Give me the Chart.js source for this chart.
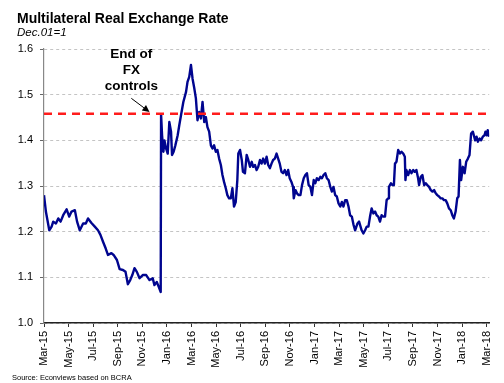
<!DOCTYPE html>
<html>
<head>
<meta charset="utf-8">
<script src="https://cdn.jsdelivr.net/npm/chart.js@4.4.0/dist/chart.umd.min.js"></script>
<style>
  html, body { margin: 0; padding: 0; background: #fff; }
  #wrap { position: relative; width: 504px; height: 383px; }
</style>
</head>
<body>
<div id="wrap"><canvas id="rerChart" width="504" height="383"></canvas></div>
<script>
// months since Mar-15 (fractional) and index value (Dec.01=1)
const months = [
  0.00, 0.16, 0.43, 0.62, 0.75, 0.97, 1.16, 1.35, 1.56, 1.84, 2.05, 2.24, 2.51, 2.69, 2.91, 3.18, 3.40, 3.58, 3.86, 4.13,
  4.39, 4.59, 4.80, 5.02, 5.20, 5.48, 5.66, 5.93, 6.15, 6.42, 6.63, 6.82, 7.01, 7.18, 7.36, 7.55, 7.77, 8.03, 8.31, 8.58,
  8.84, 8.98, 9.17, 9.33, 9.49, 9.52, 9.60, 9.71, 9.79, 9.93, 10.06, 10.19, 10.33, 10.41, 10.54, 10.68, 10.87, 11.00, 11.14, 11.33,
  11.55, 11.67, 11.81, 11.95, 12.08, 12.22, 12.35, 12.48, 12.62, 12.76, 12.89, 13.03, 13.16, 13.29, 13.43, 13.57, 13.70, 13.83, 13.97, 14.10,
  14.24, 14.38, 14.51, 14.64, 14.78, 14.91, 15.05, 15.19, 15.32, 15.45, 15.59, 15.72, 15.80, 15.94, 16.08, 16.18, 16.34, 16.48, 16.61, 16.75,
  16.89, 17.01, 17.15, 17.29, 17.42, 17.56, 17.69, 17.82, 17.96, 18.10, 18.23, 18.37, 18.50, 18.63, 18.77, 18.91, 19.04, 19.17, 19.31, 19.44,
  19.58, 19.72, 19.85, 19.98, 20.12, 20.25, 20.31, 20.45, 20.57, 20.71, 20.85, 20.98, 21.12, 21.25, 21.38, 21.52, 21.66, 21.79, 21.93, 22.06,
  22.19, 22.33, 22.47, 22.60, 22.73, 22.87, 23.00, 23.14, 23.28, 23.41, 23.54, 23.68, 23.81, 23.95, 24.09, 24.22, 24.35, 24.49, 24.62, 24.76,
  24.89, 25.03, 25.16, 25.30, 25.49, 25.62, 25.83, 25.97, 26.11, 26.24, 26.38, 26.51, 26.64, 26.78, 26.92, 27.05, 27.18, 27.32, 27.45, 27.59,
  27.73, 27.86, 27.99, 28.05, 28.21, 28.32, 28.45, 28.54, 28.66, 28.80, 28.94, 29.07, 29.21, 29.34, 29.39, 29.47, 29.61, 29.75, 29.88, 30.02,
  30.15, 30.28, 30.42, 30.50, 30.64, 30.77, 30.91, 31.04, 31.17, 31.31, 31.45, 31.58, 31.72, 31.85, 31.98, 32.12, 32.26, 32.39, 32.52, 32.66,
  32.79, 32.93, 33.07, 33.20, 33.33, 33.47, 33.60, 33.71, 33.82, 33.92, 34.06, 34.20, 34.33, 34.47, 34.60, 34.73, 34.87, 34.95, 35.06, 35.17,
  35.28, 35.42, 35.54, 35.68, 35.82, 35.90, 36.00, 36.08, 36.19
];
const rer = [
  1.280, 1.243, 1.203, 1.211, 1.222, 1.218, 1.229, 1.222, 1.236, 1.249, 1.233, 1.244, 1.247, 1.222, 1.203, 1.218, 1.218, 1.229, 1.219, 1.211,
  1.203, 1.193, 1.178, 1.163, 1.149, 1.153, 1.149, 1.138, 1.118, 1.116, 1.112, 1.085, 1.094, 1.105, 1.120, 1.112, 1.098, 1.105, 1.105, 1.094,
  1.098, 1.083, 1.090, 1.079, 1.068, 1.457, 1.411, 1.375, 1.400, 1.382, 1.371, 1.440, 1.419, 1.368, 1.375, 1.389, 1.411, 1.433, 1.455, 1.484,
  1.506, 1.528, 1.539, 1.565, 1.535, 1.514, 1.492, 1.444, 1.462, 1.448, 1.484, 1.440, 1.451, 1.429, 1.419, 1.389, 1.382, 1.389, 1.375, 1.379,
  1.360, 1.346, 1.324, 1.309, 1.295, 1.280, 1.273, 1.273, 1.295, 1.255, 1.265, 1.313, 1.371, 1.379, 1.357, 1.331, 1.328, 1.368, 1.357, 1.342,
  1.353, 1.342, 1.346, 1.335, 1.342, 1.357, 1.349, 1.360, 1.349, 1.364, 1.346, 1.339, 1.349, 1.357, 1.360, 1.371, 1.360, 1.349, 1.331, 1.328,
  1.335, 1.324, 1.335, 1.317, 1.309, 1.298, 1.273, 1.291, 1.284, 1.280, 1.280, 1.302, 1.317, 1.324, 1.328, 1.302, 1.298, 1.280, 1.313, 1.306,
  1.317, 1.313, 1.320, 1.317, 1.324, 1.328, 1.317, 1.313, 1.298, 1.288, 1.298, 1.280, 1.277, 1.262, 1.255, 1.265, 1.255, 1.269, 1.269, 1.255,
  1.236, 1.233, 1.216, 1.203, 1.218, 1.222, 1.203, 1.196, 1.203, 1.211, 1.211, 1.233, 1.251, 1.240, 1.244, 1.236, 1.233, 1.222, 1.236, 1.233,
  1.233, 1.269, 1.273, 1.298, 1.306, 1.302, 1.302, 1.349, 1.353, 1.379, 1.371, 1.375, 1.371, 1.364, 1.313, 1.335, 1.324, 1.335, 1.328, 1.335,
  1.331, 1.335, 1.317, 1.302, 1.320, 1.324, 1.302, 1.306, 1.302, 1.298, 1.291, 1.288, 1.291, 1.284, 1.280, 1.277, 1.273, 1.273, 1.269, 1.269,
  1.262, 1.251, 1.247, 1.236, 1.229, 1.244, 1.273, 1.277, 1.357, 1.313, 1.342, 1.328, 1.353, 1.360, 1.368, 1.415, 1.419, 1.411, 1.400, 1.408,
  1.397, 1.404, 1.400, 1.408, 1.411, 1.419, 1.411, 1.422, 1.408
];

const tickMonths = [0, 2, 4, 6, 8, 10, 12, 14, 16, 18, 20, 22, 24, 26, 28, 30, 32, 34, 36];
const tickLabels = ["Mar-15", "May-15", "Jul-15", "Sep-15", "Nov-15", "Jan-16", "Mar-16", "May-16", "Jul-16", "Sep-16",
  "Nov-16", "Jan-17", "Mar-17", "May-17", "Jul-17", "Sep-17", "Nov-17", "Jan-18", "Mar-18"];
const yTicks = [1.0, 1.1, 1.2, 1.3, 1.4, 1.5, 1.6];

const xMax = 36.2;
const fxLevel = 1.458;            // level right after the end of FX controls
const noteLines = ["End of", "FX", "controls"];
const notePos = [7.1, 1.580];     // month, value of the first text baseline
const arrowFrom = [7.1, 1.492];
const arrowTo = [8.58, 1.462];

const FONT = "'Liberation Sans', Arial, sans-serif";

/* =========================
   annotations + titles
   ========================= */
const notesPlugin = {
    id: "notes",
    afterDatasetsDraw(chart) {
        const { ctx, scales: { x, y } } = chart;
        ctx.save();

        // arrow
        const x0 = x.getPixelForValue(arrowFrom[0]), y0 = y.getPixelForValue(arrowFrom[1]);
        const x1 = x.getPixelForValue(arrowTo[0]), y1 = y.getPixelForValue(arrowTo[1]);
        const a = Math.atan2(y1 - y0, x1 - x0);
        const head = 7, half = 3.5;
        ctx.strokeStyle = "#000";
        ctx.fillStyle = "#000";
        ctx.lineWidth = 1;
        ctx.beginPath();
        ctx.moveTo(x0, y0);
        ctx.lineTo(x1 - head * Math.cos(a), y1 - head * Math.sin(a));
        ctx.stroke();
        ctx.beginPath();
        ctx.moveTo(x1, y1);
        ctx.lineTo(x1 - head * Math.cos(a) + half * Math.sin(a), y1 - head * Math.sin(a) - half * Math.cos(a));
        ctx.lineTo(x1 - head * Math.cos(a) - half * Math.sin(a), y1 - head * Math.sin(a) + half * Math.cos(a));
        ctx.closePath();
        ctx.fill();

        // text
        const tx = x.getPixelForValue(notePos[0]);
        const ty = y.getPixelForValue(notePos[1]);
        ctx.font = "bold 13.5px " + FONT;
        ctx.textAlign = "center";
        ctx.textBaseline = "alphabetic";
        noteLines.forEach((t, i) => ctx.fillText(t, tx, ty + i * 16));
        ctx.restore();
    },
    afterDraw(chart) {
        const ctx = chart.ctx;
        ctx.save();
        ctx.fillStyle = "#000";
        ctx.textAlign = "left";
        ctx.textBaseline = "alphabetic";
        ctx.font = "bold 14px " + FONT;
        ctx.fillText("Multilateral Real Exchange Rate", 17, 23);
        ctx.font = "italic 11.5px " + FONT;
        ctx.fillText("Dec.01=1", 17, 36);
        ctx.font = "7.5px " + FONT;
        ctx.fillText("Source: Econviews based on BCRA", 12, 380);
        ctx.restore();
    }
};

const ctx = document.getElementById("rerChart");

new Chart(ctx, {
    type: "line",
    data: {
        datasets: [
            {
                label: "FX controls level",
                data: [{ x: 0, y: fxLevel }, { x: xMax, y: fxLevel }],
                borderColor: "#ff1c1c",
                borderWidth: 2.5,
                borderDash: [8, 6],
                pointRadius: 0,
                order: 0
            },
            {
                label: "Multilateral RER",
                data: months.map((m, i) => ({ x: m, y: rer[i] })),
                borderColor: "#00058f",
                borderWidth: 2.4,
                borderJoinStyle: "round",
                pointRadius: 0,
                tension: 0,
                order: 1
            }
        ]
    },
    options: {
        responsive: false,
        animation: false,
        layout: { padding: { top: 49, right: 12, bottom: 0, left: 0 } },
        plugins: {
            legend: { display: false },
            tooltip: { enabled: false }
        },
        scales: {
            x: {
                type: "linear",
                min: 0,
                max: xMax,
                afterBuildTicks: s => { s.ticks = tickMonths.map(v => ({ value: v })); },
                afterFit: s => { s.height = 60; },
                grid: { drawOnChartArea: false, drawTicks: true, tickLength: 4, tickColor: "#333", tickWidth: 1 },
                border: { display: true, color: "#222", width: 1.5 },
                ticks: {
                    autoSkip: false,
                    minRotation: 90,
                    maxRotation: 90,
                    padding: 4,
                    color: "#000",
                    font: { family: FONT, size: 11 },
                    callback: v => tickLabels[tickMonths.indexOf(v)]
                }
            },
            y: {
                min: 1.0,
                max: 1.6,
                afterBuildTicks: s => { s.ticks = yTicks.map(v => ({ value: v })); },
                afterFit: s => { s.width = 44; },
                grid: { color: "#c4c4c4", lineWidth: 1, drawTicks: true, tickLength: 4, tickColor: "#666", tickWidth: 1 },
                border: { display: true, color: "#888", width: 1.2, dash: [3, 3] },
                ticks: {
                    padding: 7,
                    color: "#000",
                    font: { family: FONT, size: 11 },
                    callback: v => v.toFixed(1)
                }
            }
        }
    },
    plugins: [notesPlugin]
});
</script>
</body>
</html>
